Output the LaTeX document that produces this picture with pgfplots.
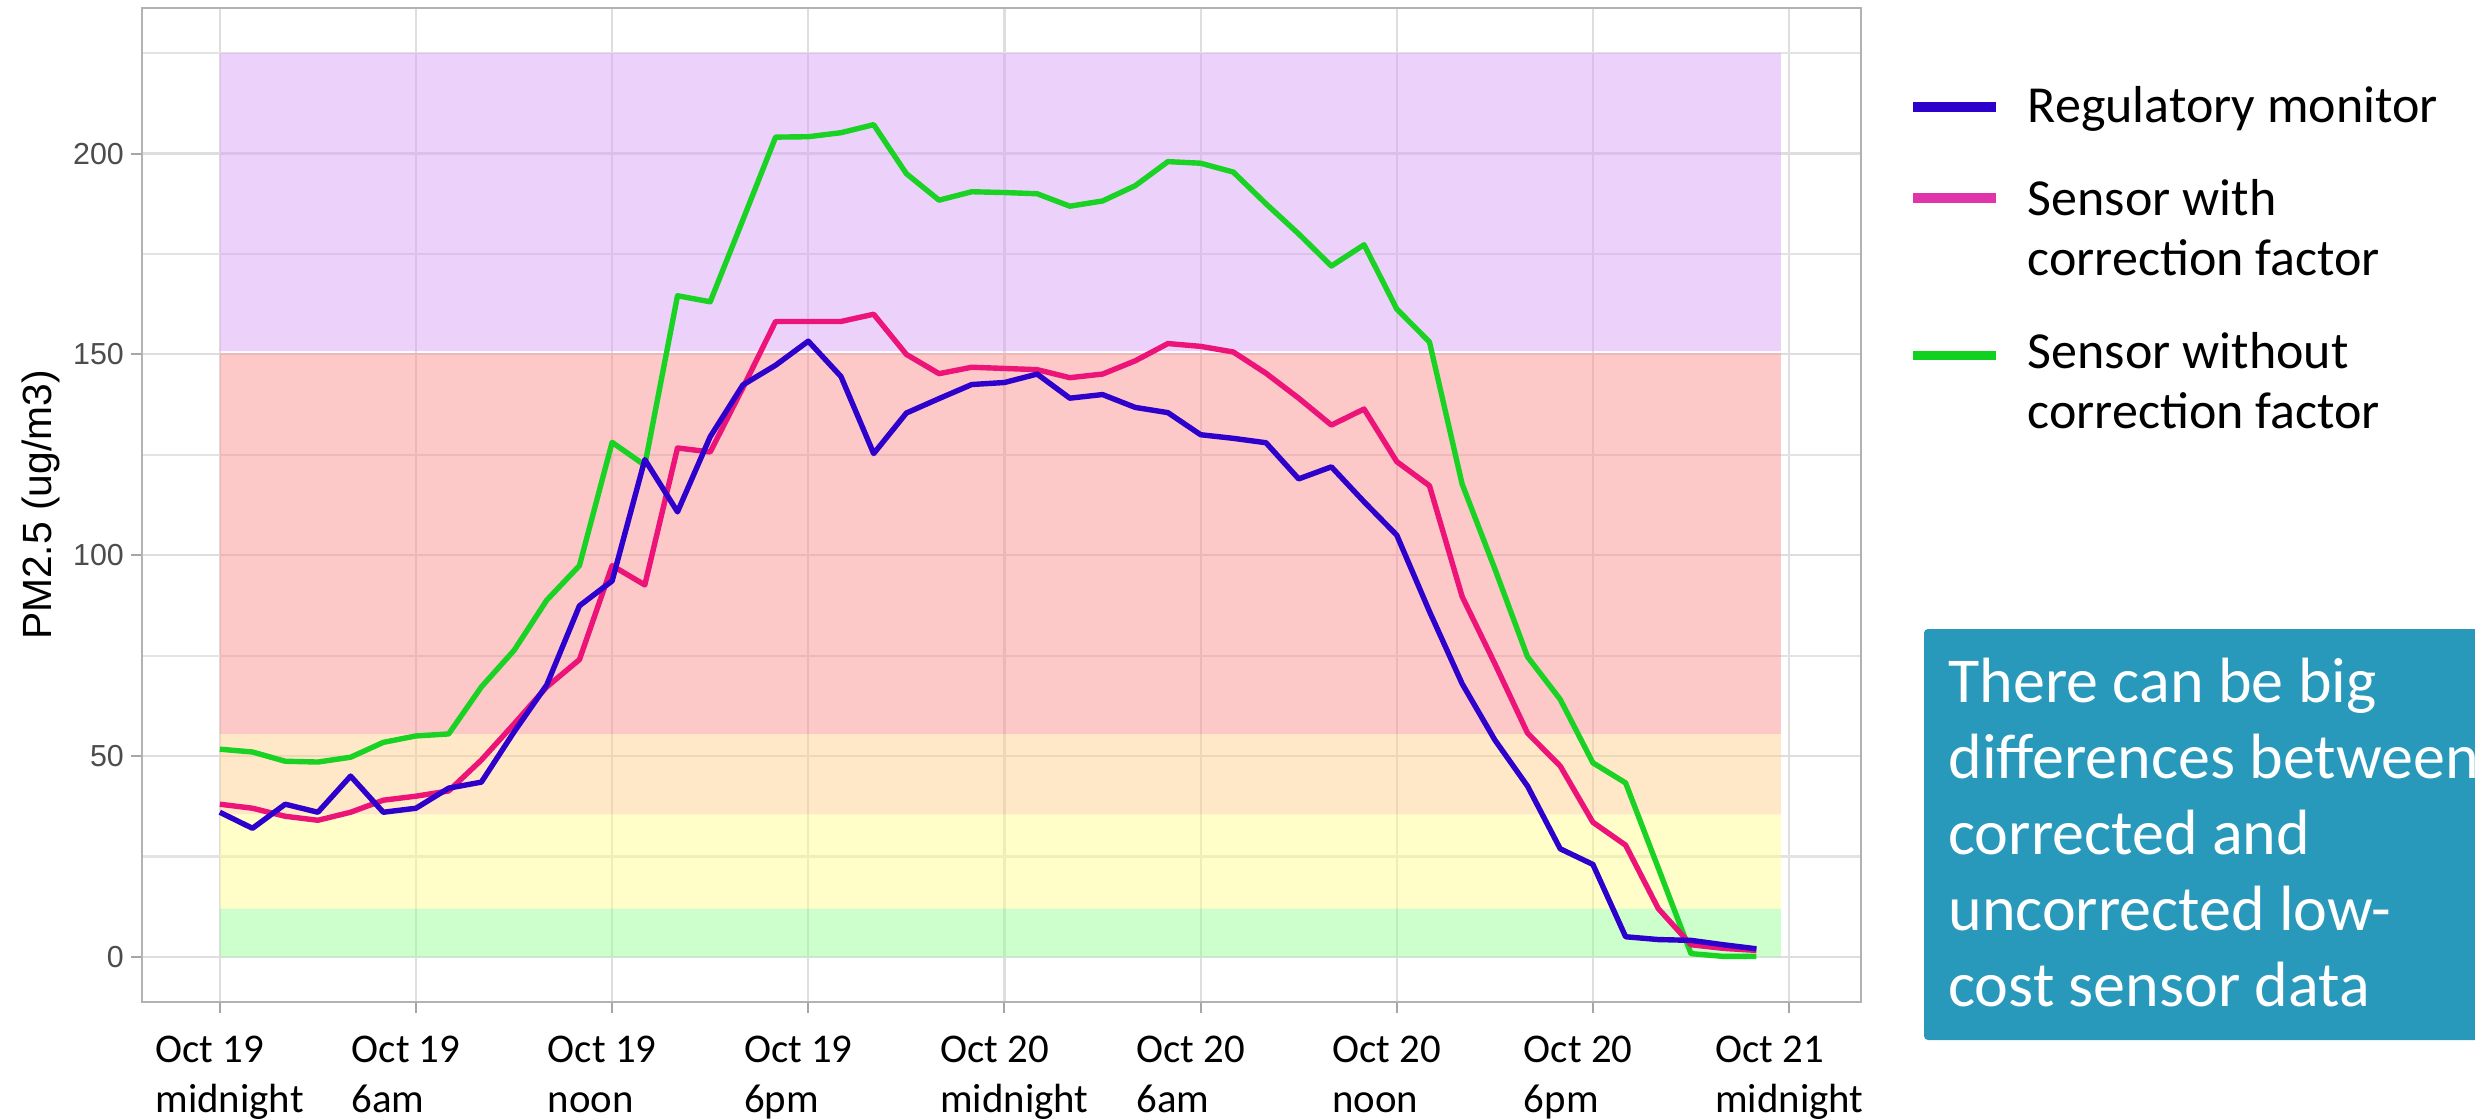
\documentclass[border=0pt]{standalone}
\usepackage{pgfplots}
\pgfplotsset{compat=1.18}
\usepackage{pgfplotstable}
\usepackage{fontspec}
\setmainfont{Carlito}
\newfontfamily\arialf{Liberation Sans}

\definecolor{regc}{RGB}{46,0,204}
\definecolor{corrc}{RGB}{236,20,120}
\definecolor{uncc}{RGB}{25,210,35}
\definecolor{regl}{RGB}{46,0,204}
\definecolor{corrl}{RGB}{224,53,170}
\definecolor{uncl}{RGB}{16,208,32}
\definecolor{bpurple}{RGB}{217,165,245}
\definecolor{bred}{RGB}{249,145,145}
\definecolor{borange}{RGB}{255,209,145}
\definecolor{byellow}{RGB}{255,251,145}
\definecolor{bgreen}{RGB}{153,255,153}
\definecolor{boxc}{RGB}{41,153,187}

\pgfplotstableread{
h reg corr uncorr
0 36 38 51.7
1 32 37 51
2 38 35 48.7
3 36 34 48.5
4 45 36 49.7
5 36 39 53.4
6 37 40 55
7 42 41.3 55.5
8 43.5 49 67.2
9 56 58 76.3
10 67.7 67.2 88.8
11 87.4 74 97.4
12 93.6 97.4 128.1
13 123.8 92.6 122.4
14 110.8 126.7 164.6
15 129.5 125.7 163.1
16 142.4 141.7 183.5
17 147.3 158.2 204.1
18 153.3 158.2 204.2
19 144.5 158.2 205.2
20 125.3 160 207.2
21 135.4 150 195
22 139 145.2 188.4
23 142.5 146.8 190.5
24 143 146.5 190.3
25 145.1 146.2 190
26 139.1 144.2 186.9
27 140 145.1 188.2
28 136.8 148.4 192
29 135.5 152.7 198
30 130 152 197.6
31 129.1 150.6 195.4
32 128 145.3 187.5
33 119 139.1 180
34 122 132.4 172
35 113.3 136.4 177.3
36 105 123.3 161.3
37 86 117.3 153.1
38 68 89.7 117.7
39 54 73 96.6
40 42.5 55.7 74.7
41 26.9 47.5 64.1
42 23 33.5 48.3
43 5 27.8 43.3
44 4.3 12 22.1
45 4.1 3 0.8
46 3 2.1 0.1
47 2 1.6 0.1
}\datatable

\begin{document}
\begin{tikzpicture}
\begin{axis}[
  at={(35.5pt,29pt)}, anchor=south west,
  width=429.75pt, height=248.5pt, scale only axis,
  xmin=-2.38, xmax=50.2, ymin=-11.25, ymax=236.25,
  xtick={0,6,...,48},
  xticklabels={{Oct 19\\midnight},{Oct 19\\6am},{Oct 19\\noon},{Oct 19\\6pm},{Oct 20\\midnight},{Oct 20\\6am},{Oct 20\\noon},{\hspace*{-1.2pt}Oct 20\\\hspace*{-1.2pt}6pm},{\hspace*{-2.4pt}Oct 21\\\hspace*{-2.4pt}midnight}},
  xticklabel style={align=left, anchor=north west, xshift=-16.25pt, yshift=-5.5pt, inner sep=0pt, font=\fontsize{10.2}{12.5}\selectfont, text=black},
  ytick={0,50,100,150,200},
  minor ytick={25,75,125,175,225},
  yticklabel style={font=\arialf\fontsize{7.6}{9}\selectfont, text=black!70, xshift=1.75pt},
  /pgf/number format/assume math mode=true,
  xtick pos=bottom, ytick pos=left,
  xmajorgrids, ymajorgrids, yminorgrids,
  major grid style={draw=black!13, line width=0.55pt},
  minor grid style={draw=black!11, line width=0.55pt},
  tick align=outside, major tick length=2.75pt, minor tick length=0pt,
  tick style={draw=black!35, line width=0.5pt},
  axis line style={draw=black!30, line width=0.6pt},
  ylabel={PM2.5 (ug/m3)},
  every axis y label/.style={at={(axis description cs:-0.0588,0.5)}, rotate=90, anchor=center, font=\arialf\fontsize{10.2}{12}\selectfont},
  clip=true,
]
% AQI bands
\addplot[draw=none, fill=bgreen, fill opacity=0.5, forget plot] coordinates {(0,0) (47.75,0) (47.75,12) (0,12) (0,0)};
\addplot[draw=none, fill=byellow, fill opacity=0.5, forget plot] coordinates {(0,12) (47.75,12) (47.75,35.5) (0,35.5) (0,12)};
\addplot[draw=none, fill=borange, fill opacity=0.5, forget plot] coordinates {(0,35.5) (47.75,35.5) (47.75,55.5) (0,55.5) (0,35.5)};
\addplot[draw=none, fill=bred, fill opacity=0.5, forget plot] coordinates {(0,55.5) (47.75,55.5) (47.75,150.3) (0,150.3) (0,55.5)};
\addplot[draw=none, fill=bpurple, fill opacity=0.5, forget plot] coordinates {(0,150.8) (47.75,150.8) (47.75,225) (0,225) (0,150.8)};
% series
\addplot[color=uncc, line width=1.35pt, line join=round] table[x=h, y=uncorr] {\datatable};
\addplot[color=corrc, line width=1.35pt, line join=round] table[x=h, y=corr] {\datatable};
\addplot[color=regc, line width=1.35pt, line join=round] table[x=h, y=reg] {\datatable};
\end{axis}
% legend
\draw[regl, line width=2.4pt] (478.25pt,252.75pt) -- (499pt,252.75pt);
\draw[corrl, line width=2.4pt] (478.25pt,230pt) -- (499pt,230pt);
\draw[uncl, line width=2.4pt] (478.25pt,190.6pt) -- (499pt,190.6pt);
\node[anchor=base west, inner sep=0pt, font=\fontsize{13}{15.2}\selectfont] at (506.75pt,248.8pt) {Regulatory monitor};
\node[anchor=base west, inner sep=0pt, font=\fontsize{13}{15.2}\selectfont, align=left] at (506.75pt,210.55pt) {Sensor with\\correction factor};
\node[anchor=base west, inner sep=0pt, font=\fontsize{13}{15.2}\selectfont, align=left] at (506.75pt,172.3pt) {Sensor without\\correction factor};
% text box
\fill[boxc, rounded corners=1pt] (481pt,19.5pt) rectangle (640pt,122.25pt);
\node[anchor=base west, inner sep=0pt, text=white, font=\fontsize{16}{19}\selectfont, align=left] at (486.9pt,27.9pt) {There can be big\\differences between\\corrected and\\uncorrected low-\\cost sensor data};
\pgfresetboundingbox
\path[use as bounding box] (0,0) rectangle (618.75pt,279.5pt);
\end{tikzpicture}
\end{document}
